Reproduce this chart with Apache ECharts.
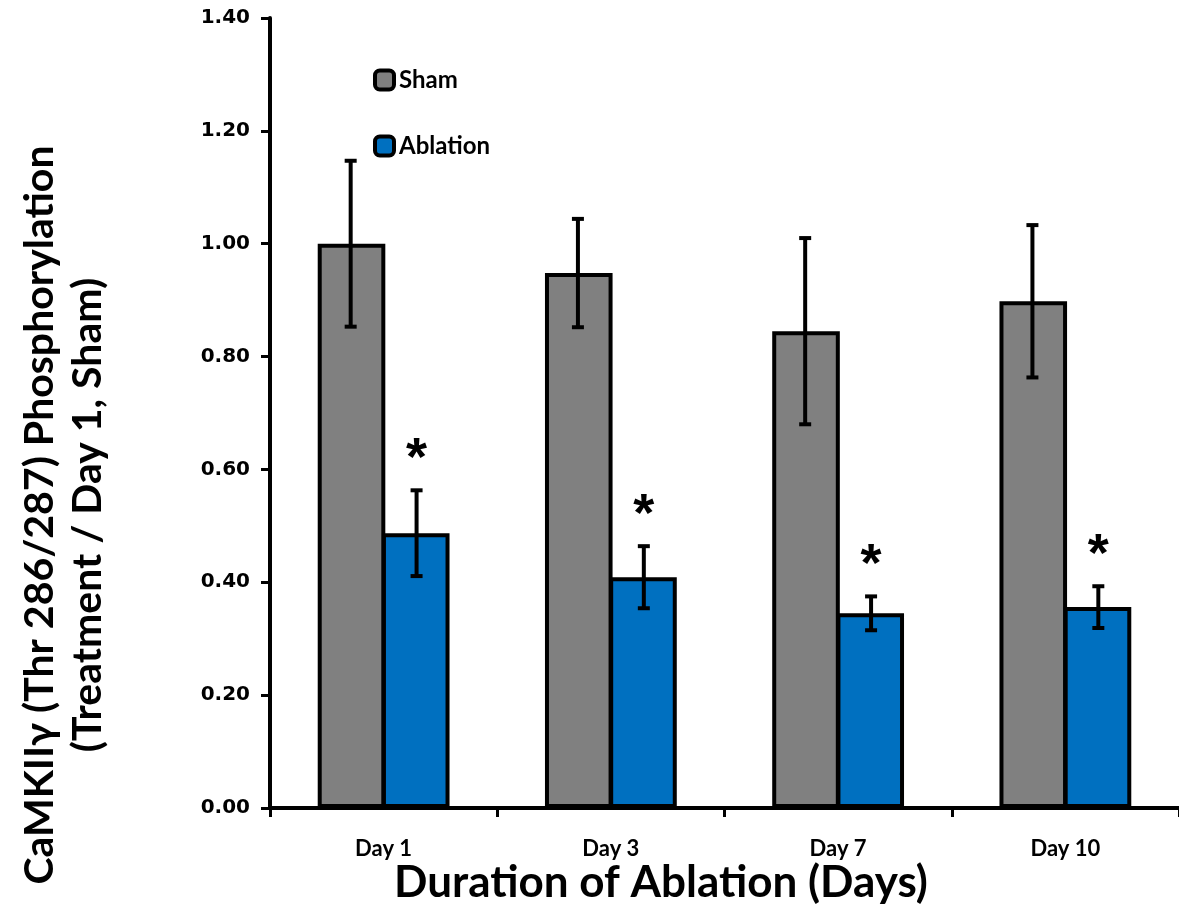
<!DOCTYPE html>
<html>
<head>
<meta charset="utf-8">
<script src="https://cdn.jsdelivr.net/npm/echarts@6/dist/echarts.min.js"></script>
<style>html,body{margin:0;padding:0;background:#fff;}#c{width:1179px;height:909px;}</style>
</head>
<body>
<div id="c"></div>
<script>
const categories = ['Day 1', 'Day 3', 'Day 7', 'Day 10'];
const sham = [1.00, 0.948, 0.845, 0.898];
const shamErr = [0.147, 0.096, 0.165, 0.135];
const ablation = [0.487, 0.409, 0.345, 0.356];
const ablationErr = [0.076, 0.055, 0.030, 0.037];
const yTicks = [0, 1.4, 0.2]; // min, max, interval
const marks = ['*', '*', '*', '*'];

const chart = echarts.init(document.getElementById('c'));
const CAT_GAP = 0.42;

function errSeries(name, vals, errs, side, withStar) {
  return {
    type: 'custom',
    name: name + ' err',
    z: 10,
    silent: true,
    data: vals.map((v, i) => [i, v, errs[i]]),
    renderItem: function (params, api) {
      const i = api.value(0), v = api.value(1), e = api.value(2);
      const band = api.size([1, 0])[0];
      const bw = band * (1 - CAT_GAP) / 2;
      const c = api.coord([i, v]);
      const x = c[0] + side * bw / 2;
      const top = api.coord([i, v + e])[1];
      const bot = api.coord([i, v - e])[1];
      const cap = 6;
      const st = { stroke: '#000', lineWidth: 4 };
      const children = [
        { type: 'line', shape: { x1: x, y1: top, x2: x, y2: bot }, style: st },
        { type: 'line', shape: { x1: x - cap, y1: top, x2: x + cap, y2: top }, style: st },
        { type: 'line', shape: { x1: x - cap, y1: bot, x2: x + cap, y2: bot }, style: st }
      ];
      if (withStar) {
        children.push({
          type: 'text',
          style: {
            text: marks[i], x: x, y: top - 30,
            fill: '#000', font: 'bold 54px "Liberation Sans", Arial',
            textAlign: 'center', textVerticalAlign: 'middle'
          }
        });
      }
      return { type: 'group', children: children };
    }
  };
}

chart.setOption({
  animation: false,
  backgroundColor: '#fff',
  grid: { left: 270, right: 0, top: 18, bottom: 101, containLabel: false },
  legend: {
    orient: 'vertical',
    left: 373, top: 68, padding: 0,
    itemWidth: 19, itemHeight: 19, itemGap: 42,
    icon: 'roundRect',
    data: ['Sham', 'Ablation'],
    itemStyle: { borderColor: '#000', borderWidth: 4 },
    textStyle: { fontFamily: 'Lato', fontWeight: 'bold', fontSize: 24, color: '#000' }
  },
  xAxis: {
    type: 'category',
    data: categories,
    boundaryGap: true,
    axisLine: { lineStyle: { color: '#000', width: 4 } },
    axisTick: { show: true, length: 9, lineStyle: { color: '#000', width: 3 } },
    axisLabel: { margin: 30, fontFamily: 'Lato', fontWeight: 'bold', fontSize: 22, color: '#000' }
  },
  yAxis: {
    type: 'value',
    min: yTicks[0], max: yTicks[1], interval: yTicks[2],
    axisLine: { show: true, lineStyle: { color: '#000', width: 4 } },
    axisTick: { show: true, length: 9, lineStyle: { color: '#000', width: 3 } },
    splitLine: { show: false },
    axisLabel: {
      margin: 20,
      formatter: v => v.toFixed(2),
      fontFamily: 'DejaVu Sans', fontWeight: 'bold', fontSize: 20, color: '#000'
    }
  },
  graphic: [
    {
      type: 'text', x: 64, y: 515, rotation: Math.PI / 2,
      style: {
        text: 'CaMKIIγ (Thr 286/287) Phosphorylation\n(Treatment / Day 1, Sham)',
        font: 'bold 41px Lato', fill: '#000',
        textAlign: 'center', textVerticalAlign: 'middle', lineHeight: 48
      }
    },
    {
      type: 'text', x: 661, y: 883,
      style: {
        text: 'Duration of Ablation (Days)',
        font: 'bold 44px Lato', fill: '#000',
        textAlign: 'center', textVerticalAlign: 'middle'
      }
    }
  ],
  series: [
    {
      name: 'Sham', type: 'bar', data: sham,
      barGap: '-5%', barCategoryGap: (CAT_GAP * 100) + '%',
      itemStyle: { color: '#808080', borderColor: '#000', borderWidth: 4 }
    },
    {
      name: 'Ablation', type: 'bar', data: ablation,
      itemStyle: { color: '#0070C0', borderColor: '#000', borderWidth: 4 }
    },
    errSeries('Sham', sham, shamErr, -1, false),
    errSeries('Ablation', ablation, ablationErr, 1, true)
  ]
});
</script>
</body>
</html>
